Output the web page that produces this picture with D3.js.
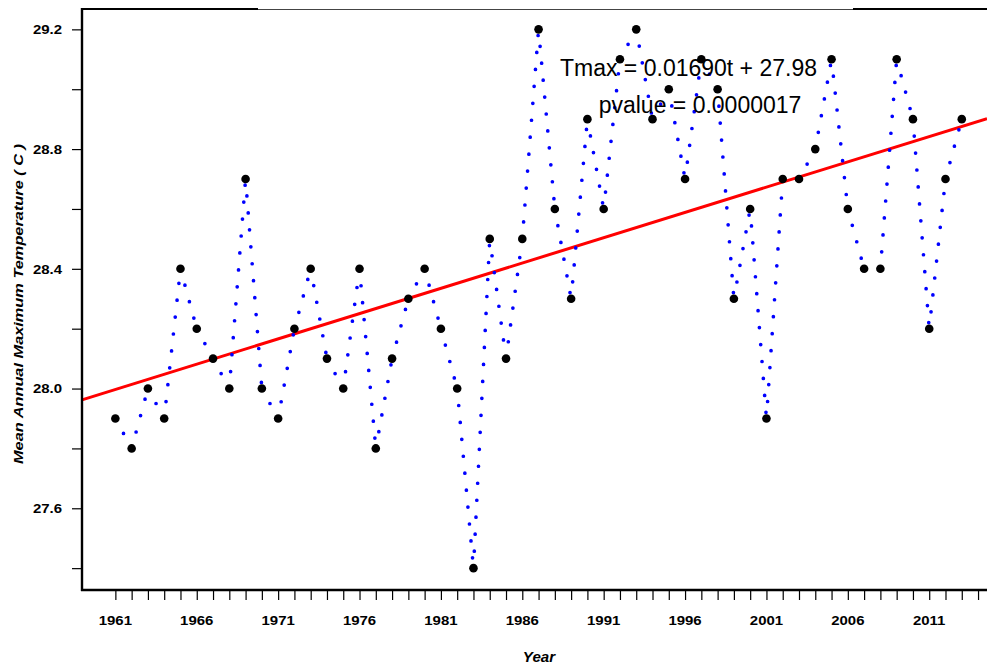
<!DOCTYPE html>
<html>
<head>
<meta charset="utf-8">
<script src="https://cdn.jsdelivr.net/npm/d3@7"></script>
<style>
  html, body { margin: 0; padding: 0; background: #fff; }
  svg { display: block; }
  text { font-family: "Liberation Sans", Arial, Helvetica, sans-serif; }
</style>
</head>
<body>
<svg id="chart" width="987" height="667"></svg>
<script>
// ---- data ----
const years = [1961,1962,1963,1964,1965,1966,1967,1968,1969,1970,1971,1972,1973,1974,1975,1976,1977,1978,1979,1980,
  1981,1982,1983,1984,1985,1986,1987,1988,1989,1990,1991,1992,1993,1994,1995,1996,1997,1998,1999,2000,
  2001,2002,2003,2004,2005,2006,2007,2008,2009,2010,2011,2012,2013];
const tmax = [27.9,27.8,28.0,27.9,28.4,28.2,28.1,28.0,28.7,28.0,27.9,28.2,28.4,28.1,28.0,28.4,27.8,28.1,28.3,28.4,
  28.2,28.0,27.4,28.5,28.1,28.5,29.2,28.6,28.3,28.9,28.6,29.1,29.2,28.9,29.0,28.7,29.1,29.0,28.3,28.6,
  27.9,28.7,28.7,28.8,29.1,28.6,28.4,28.4,29.1,28.9,28.2,28.7,28.9];
const trendSlope = 0.01690;
const trendIntercept = 27.98;
const trendOrigin = 1960;           // t = year - 1960
const pvalueText = "0.0000017";
const xTickYears = d3.range(1961, 2015);          // minor ticks every year
const xLabelYears = [1961,1966,1971,1976,1981,1986,1991,1996,2001,2006,2011];
const yTicks = [27.4,27.6,27.8,28.0,28.2,28.4,28.6,28.8,29.0,29.2];
const yLabels = [27.6,28.0,28.4,28.8,29.2];
const xTitle = "Year";
const yTitle = "Mean Annual Maximum Temperature ( C )";

// ---- layout ----
const svg = d3.select("#chart");
const mLeft = 82, mRight = 987, mTop = 9, mBottom = 590;

const x = d3.scaleLinear().domain([1958.95, 2014.55]).range([mLeft, mRight]);
const y = d3.scaleLinear().domain([27.327, 29.268]).range([mBottom, mTop]);

function stretch(sel, factor) {
  sel.each(function () {
    const len = this.getComputedTextLength();
    d3.select(this).attr("textLength", len * factor).attr("lengthAdjust", "spacingAndGlyphs");
  });
}

// ---- trend line ----
const xd = x.domain();
svg.append("line")
  .attr("x1", x(xd[0])).attr("y1", y(trendIntercept + trendSlope * (xd[0] - trendOrigin)))
  .attr("x2", x(xd[1])).attr("y2", y(trendIntercept + trendSlope * (xd[1] - trendOrigin)))
  .attr("stroke", "#ff0000").attr("stroke-width", 3);

// ---- dotted connecting segments (type "b", lty 3) ----
const pts = years.map((yr, i) => [x(yr), y(tmax[i])]);
svg.append("g").selectAll("line").data(d3.pairs(pts)).join("line")
  .attr("x1", d => d[0][0]).attr("y1", d => d[0][1])
  .attr("x2", d => d[1][0]).attr("y2", d => d[1][1])
  .attr("stroke", "#0000ff").attr("stroke-width", 3.7)
  .attr("stroke-linecap", "round").attr("stroke-dasharray", "0 17");

// ---- points ----
svg.append("g").selectAll("circle").data(pts).join("circle")
  .attr("cx", d => d[0]).attr("cy", d => d[1]).attr("r", 4.3).attr("fill", "#000");

// ---- axes ----
const yAxis = d3.axisLeft(y).tickValues(yTicks).tickSize(10).tickPadding(0)
  .tickFormat(d => "");
const gy = svg.append("g").attr("transform", `translate(${mLeft},0)`).call(yAxis);
gy.select(".domain").remove();
gy.selectAll(".tick line").attr("stroke", "#000").attr("stroke-width", 1.2);

const xAxis = d3.axisBottom(x).tickValues(xTickYears).tickSize(10).tickFormat(d => "");
const gx = svg.append("g").attr("transform", `translate(0,${mBottom})`).call(xAxis);
gx.select(".domain").remove();
gx.selectAll(".tick line").attr("stroke", "#000").attr("stroke-width", 1.2);

// y labels
svg.append("g").selectAll("text").data(yLabels).join("text")
  .attr("x", 62).attr("y", d => y(d) + 4.8)
  .attr("text-anchor", "end").attr("font-weight", "bold").attr("font-size", 13)
  .attr("fill", "#000").text(d => d.toFixed(1))
  .call(stretch, 1.15);

// x labels
svg.append("g").selectAll("text").data(xLabelYears).join("text")
  .attr("x", d => x(d)).attr("y", 624.5)
  .attr("text-anchor", "middle").attr("font-weight", "bold").attr("font-size", 13)
  .attr("fill", "#000").text(d => d)
  .call(stretch, 1.15);

// axis lines / frame
svg.append("line").attr("x1", mLeft).attr("x2", mLeft).attr("y1", mTop - 1).attr("y2", mBottom + 1)
  .attr("stroke", "#000").attr("stroke-width", 2.4);
svg.append("line").attr("x1", mLeft - 1).attr("x2", mRight).attr("y1", mBottom).attr("y2", mBottom)
  .attr("stroke", "#000").attr("stroke-width", 2.4);
svg.append("line").attr("x1", mLeft).attr("x2", 258).attr("y1", mTop).attr("y2", mTop)
  .attr("stroke", "#000").attr("stroke-width", 2);
svg.append("line").attr("x1", 258).attr("x2", 853).attr("y1", mTop + 0.5).attr("y2", mTop + 0.5)
  .attr("stroke", "#444").attr("stroke-width", 1);
svg.append("line").attr("x1", 853).attr("x2", mRight).attr("y1", mTop).attr("y2", mTop)
  .attr("stroke", "#000").attr("stroke-width", 2);

// titles
svg.append("text").attr("x", 539).attr("y", 662).attr("text-anchor", "middle")
  .attr("font-weight", "bold").attr("font-style", "italic").attr("font-size", 14)
  .text(xTitle).call(stretch, 1.08);

svg.append("text").attr("transform", "translate(23,304) rotate(-90)").attr("text-anchor", "middle")
  .attr("font-weight", "bold").attr("font-style", "italic").attr("font-size", 13.5)
  .text(yTitle).call(stretch, 1.21);

// equation text
svg.append("text").attr("x", 688.5).attr("y", 76).attr("text-anchor", "middle")
  .attr("font-size", 23).attr("fill", "#000")
  .text(`Tmax = ${trendSlope.toFixed(5)}t + ${trendIntercept.toFixed(2)}`);
svg.append("text").attr("x", 700).attr("y", 113).attr("text-anchor", "middle")
  .attr("font-size", 23).attr("fill", "#000")
  .text(`pvalue = ${pvalueText}`);
</script>
</body>
</html>
